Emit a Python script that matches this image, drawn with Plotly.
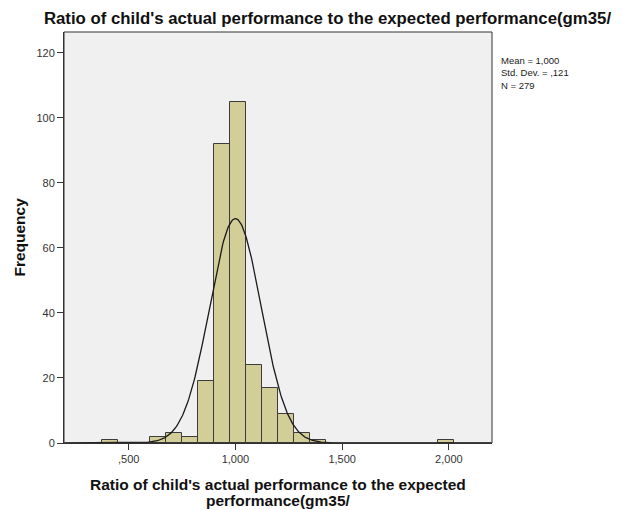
import numpy as np
import plotly.graph_objects as go

# Data
bin_left = [0.375, 0.600, 0.675, 0.750, 0.825, 0.900, 0.975, 1.050, 1.125, 1.200, 1.275, 1.350, 1.950]
counts   = [1,     2,     3,     2,     19,    92,    105,   24,    17,    9,     3,     1,     1]
bin_width = 0.075
mean_val = 1.000
std_val = 0.121
n_val = 279

x_tickvals = [0.5, 1.0, 1.5, 2.0]
x_ticktext = [",500", "1,000", "1,500", "2,000"]
y_tickvals = [0, 20, 40, 60, 80, 100, 120]
stats_lines = ["Mean = 1,000", "Std. Dev. = ,121", "N = 279"]

centers = [b + bin_width / 2 for b in bin_left]

FONT = "Arial, Liberation Sans, sans-serif"

fig = go.Figure()
fig.add_trace(go.Bar(
    x=centers, y=counts, width=bin_width,
    marker=dict(color="#D3CE98", line=dict(color="#3c3c3c", width=1)),
    showlegend=False, hoverinfo="x+y",
))

# normal curve fitted from mean / sd / N
xs = np.linspace(0.2, 2.2, 600)
ys = n_val * bin_width / (std_val * np.sqrt(2 * np.pi)) * np.exp(-0.5 * ((xs - mean_val) / std_val) ** 2)
fig.add_trace(go.Scatter(x=xs, y=ys, mode="lines",
                         line=dict(color="#1a1a1a", width=1.3),
                         showlegend=False, hoverinfo="skip"))

annotations = [
    dict(xref="paper", yref="paper", x=0.5, y=-0.102, xanchor="center", yanchor="middle",
         showarrow=False, text="<b>Ratio of child's actual performance to the expected</b>",
         font=dict(size=15.5, color="#111", family=FONT)),
    dict(xref="paper", yref="paper", x=0.5, y=-0.139, xanchor="center", yanchor="middle",
         showarrow=False, text="<b>performance(gm35/</b>",
         font=dict(size=15.5, color="#111", family=FONT)),
    dict(xref="paper", yref="paper", x=-0.105, y=0.5, xanchor="center", yanchor="middle",
         showarrow=False, text="<b>Frequency</b>", textangle=-90,
         font=dict(size=15.5, color="#111", family=FONT)),
    dict(xref="paper", yref="paper", x=1.016, y=0.948, xanchor="left", yanchor="top",
         align="left", showarrow=False, text="<br>".join(stats_lines),
         font=dict(size=9.5, color="#222", family=FONT)),
]

fig.update_layout(
    width=622, height=510,
    margin=dict(l=64, r=130, t=32, b=67, autoexpand=False),
    paper_bgcolor="white", plot_bgcolor="#F0F0F0",
    font=dict(family=FONT, size=11, color="#222"),
    bargap=0,
    title=dict(text="<b>Ratio of child's actual performance to the expected performance(gm35/</b>",
               x=327.5 / 622, xanchor="center", xref="container", y=1 - 18.5 / 510,
               yref="container", yanchor="middle",
               font=dict(size=16.8, family=FONT, color="#111")),
    xaxis=dict(range=[0.197, 2.202], tickvals=x_tickvals, ticktext=x_ticktext,
               showgrid=False, zeroline=False, showline=True, linecolor="#333", linewidth=1,
               ticks="outside", ticklen=6, tickcolor="#333", automargin=False,
               tickfont=dict(size=11, color="#333")),
    yaxis=dict(range=[0, 126.4], tickvals=y_tickvals,
               showgrid=False, zeroline=False, showline=True, linecolor="#333", linewidth=1,
               ticks="outside", ticklen=6, tickcolor="#333", automargin=False,
               tickfont=dict(size=11, color="#333")),
    shapes=[dict(type="rect", xref="paper", yref="paper", x0=0, x1=1, y0=0, y1=1,
                 line=dict(color="#333", width=1), fillcolor="rgba(0,0,0,0)", layer="above")],
    annotations=annotations,
)

fig.write_html("out.html", config={"displayModeBar": False},
               post_script="document.body.style.margin='0';")
